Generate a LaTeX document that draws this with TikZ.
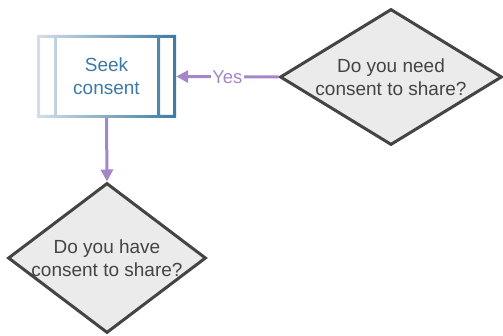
\documentclass[tikz,border=0pt]{standalone}
\usepackage{fontspec}
\setmainfont{Liberation Sans}
\usetikzlibrary{shapes.geometric,arrows.meta}
\definecolor{dfill}{HTML}{EBEBEB}
\definecolor{dline}{HTML}{444444}
\definecolor{arr}{HTML}{A586C9}
\definecolor{boxl}{HTML}{D3DEE9}
\definecolor{boxr}{HTML}{3C7BA3}
\definecolor{boxtxt}{HTML}{3B7AA5}
\definecolor{txt}{HTML}{444444}
\tikzset{
  x=1pt,y=1pt,
  dia/.style={diamond,draw=dline,fill=dfill,line width=3pt,inner sep=0pt},
  dtxt/.style={align=center,text=txt,font=\fontsize{19}{23}\selectfont,inner sep=0pt},
  conn/.style={draw=arr,line width=3pt,-{Triangle[length=12pt,width=12pt]}},
  lbl/.style={fill=white,text=arr,font=\fontsize{18.5}{22}\selectfont,inner sep=1.5pt}
}
\begin{document}
\begin{tikzpicture}
\useasboundingbox (0,0) rectangle (503,336);
% decision 1
\node[dia,minimum width=222,minimum height=136] (d1) at (391,259) {};
\node[dtxt] (t1) at (391,259) {Do you need\\consent to share?};
% decision 2
\node[dia,minimum width=198,minimum height=150] (d2) at (107,78) {};
\node[dtxt] (t2) at (107,78) {Do you have\\consent to share?};
% process box
\node[minimum width=139,minimum height=83,inner sep=0pt] (box) at (106.5,259.5) {};
\shade[left color=boxl,right color=boxr,even odd rule]
  (37,218) rectangle (176,301)
  (40,221) rectangle (54,298)
  (57,221) rectangle (157,298)
  (160,221) rectangle (173,298);
\fill[white] (57,221) rectangle (157,298);
\node[align=center,text=boxtxt,font=\fontsize{19}{23}\selectfont,inner sep=0pt] (bt) at (106.5,259.5) {Seek\\consent};
% connectors
\draw[conn] (d1.west) -- node[lbl] (yes) {Yes} (box.east);
\draw[conn] (box.south) -- (d2.north);
\end{tikzpicture}
\end{document}
